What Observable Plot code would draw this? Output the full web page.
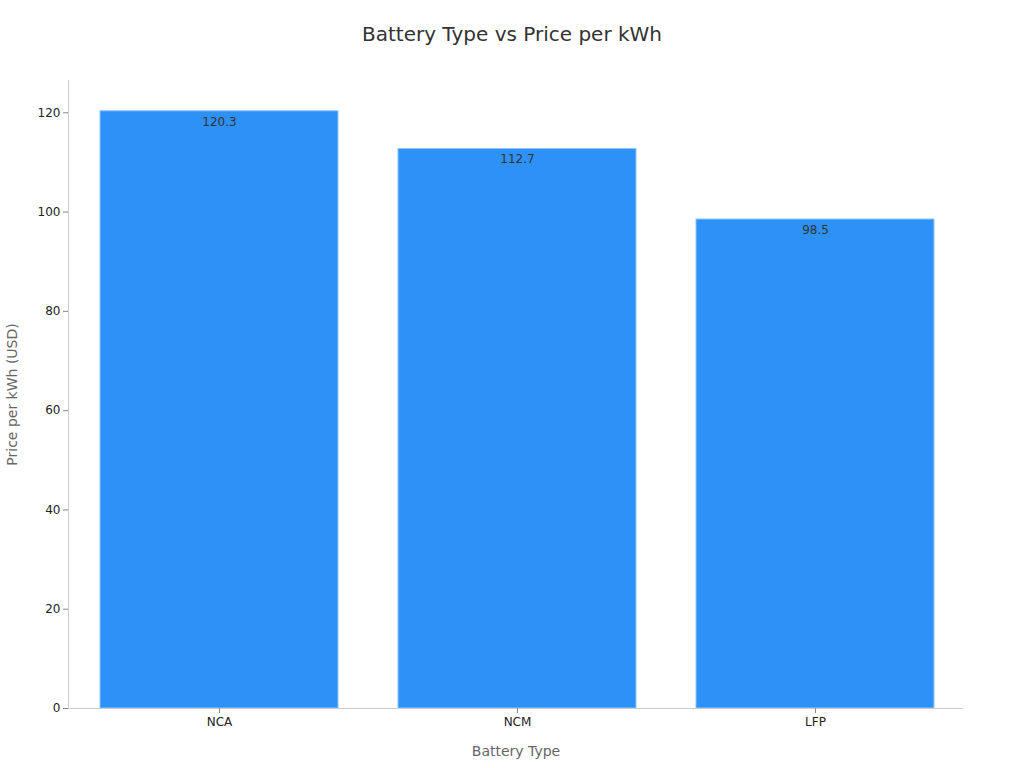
<!DOCTYPE html>
<html>
<head>
<meta charset="utf-8">
<script src="https://cdn.jsdelivr.net/npm/d3@7"></script>
<script src="https://cdn.jsdelivr.net/npm/@observablehq/plot@0.6"></script>
<style>
  body { margin: 0; background: #fff; font-family: "DejaVu Sans", sans-serif; }
  #title { height: 68px; line-height: 68px; text-align: center; font-size: 20px; color: #333; }
</style>
</head>
<body>
<div id="title">Battery Type vs Price per kWh</div>
<div id="chart"></div>
<script>
const categories = ["NCA", "NCM", "LFP"];
const prices = [120.3, 112.7, 98.5];
const yTicks = [0, 20, 40, 60, 80, 100, 120];

const data = categories.map((c, i) => ({type: c, price: prices[i]}));

const chart = Plot.plot({
  width: 1024,
  height: 700,
  marginTop: 12,
  marginBottom: 60,
  marginLeft: 68,
  marginRight: 61,
  style: {fontFamily: "DejaVu Sans, sans-serif", fontSize: "12px", color: "#333", background: "#fff"},
  x: {domain: categories, paddingInner: 0.2, paddingOuter: 0.1, align: 0.53},
  y: {domain: [0, 126.5]},
  marks: [
    Plot.barY(data, {x: "type", y: "price", fill: "#2e91f8", stroke: "#8cc4fb", strokeWidth: 1}),
    Plot.text(data, {x: "type", y: "price", text: d => d.price.toFixed(1), dy: 10.5, fill: "#333", fontSize: 12}),
    Plot.frame({anchor: "left", stroke: "#ccc"}),
    Plot.ruleY([0], {stroke: "#ccc"}),
    Plot.axisY({ticks: yTicks, tickSize: 5, tickPadding: 3, stroke: "#888", color: "#222", fontSize: 12,
      label: "Price per kWh (USD)", labelAnchor: "center", labelArrow: "none", labelOffset: 61}),
    Plot.axisX({tickSize: 5, tickPadding: 4, stroke: "#888", color: "#222", fontSize: 12,
      label: "Battery Type", labelAnchor: "center", labelArrow: "none", labelOffset: 47})
  ]
});
document.getElementById("chart").appendChild(chart);
chart.querySelectorAll("g[aria-label='y-axis label'] text, g[aria-label='x-axis label'] text").forEach(t => {
  t.setAttribute("fill", "#666");
  t.style.fontSize = "14px";
});
</script>
</body>
</html>
